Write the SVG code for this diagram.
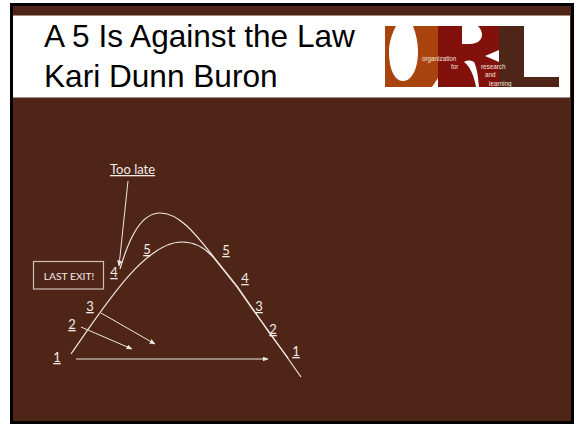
<svg xmlns="http://www.w3.org/2000/svg" width="578" height="424" viewBox="0 0 578 424">
<style>
.t{font-family:"Liberation Sans",Arial,sans-serif;font-size:31.6px;fill:#000}
.l{font-family:"Lato","Open Sans",sans-serif;font-size:13px;fill:#f2ece8;text-decoration:underline}
.n{font-family:"Lato","Open Sans",sans-serif;font-size:13px;fill:#f2ece8;text-decoration:underline;text-anchor:middle}
.c{fill:none;stroke:#f0e8e2;stroke-width:1.2}
.a{fill:none;stroke:#f0e8e2;stroke-width:1;marker-end:url(#h)}
.o{font-family:"Liberation Sans",Arial,sans-serif;font-size:6.3px;fill:#f3e6dc}
</style>
<defs><marker id="h" markerWidth="6" markerHeight="5" refX="5.500" refY="2.500" orient="auto" markerUnits="userSpaceOnUse"><path d="M0 0L6 2.500L0 5Z" fill="#f0e8e2"/></marker></defs>
<rect width="578" height="424" fill="#fff"/>
<rect x="11.500" y="4.500" width="561" height="418" fill="#4f2518" stroke="#000" stroke-width="3"/>
<rect id="band" x="13" y="15" width="557" height="82" fill="#fff"/>
<path d="M13 15.500H570M13 97.500H570" stroke="#a58d84" stroke-width="1" fill="none"/>
<g id="title"><text class="t" x="44" y="47">A 5 Is Against the Law</text><text class="t" x="44" y="87">Kari Dunn Buron</text></g>
<g id="logo">
<path d="M385 26H438V87H385Z" fill="#a9440f"/>
<path d="M396 26H413C416 34 418 42 418 52C418 68 412 81 403 81C394 81 389 68 389 52C389 42 392 34 396 26Z" fill="#fff"/>
<path d="M438 26H499V87H438Z" fill="#82110c"/>
<path d="M438 78V87H432Z" fill="#fff"/>
<path d="M462 26V44H470C477 44 482 40 482 35C482 31 480 28 478 26Z" fill="#fff"/>
<path d="M485 56L499 50V62Z" fill="#fff"/>
<path d="M464 62C470 66 474 76 476 87H479C478 76 477 68 474 62C471 60 467 60 464 62Z" fill="#fff"/>
<path d="M499 26H524V77H559V87H499Z" fill="#4f2518"/>
<text class="o" x="422" y="61">organization</text><text class="o" x="451" y="69">for</text><text class="o" x="481" y="69">research</text><text class="o" x="485" y="77">and</text><text class="o" x="489" y="85.500">learning</text>
</g>
<g id="connectors">
<path class="c" d="M71 354C105 305 145 242 182 242C195 242 205 248 213 257L237 287L253 310L270 333L301 377"/>
<path class="c" d="M120 269C130 235 142 213 160 213C180 213 197 236 213 256L237 286L253 309L270 334L288 358"/>
<path class="a" d="M128 181L119 266"/>
<path class="a" d="M81 327L132 349"/>
<path class="a" d="M101 313L155 344"/>
<path class="a" d="M76 359L268 359"/>
</g>
<g id="n-toolate"><text class="l" x="110" y="174">Too late</text></g>
<g id="n-lastexit"><rect x="33.500" y="261.500" width="70" height="27.500" fill="none" stroke="#cfc0b8" stroke-width="1.200"/><text x="69" y="280" text-anchor="middle" font-family="Lato,'Open Sans',sans-serif" font-size="10.300" fill="#f2ece8">LAST EXIT!</text></g>
<g id="labels-left"><text class="n" x="114" y="277">4</text><text class="n" x="147" y="254">5</text><text class="n" x="90" y="311">3</text><text class="n" x="72" y="329">2</text><text class="n" x="57" y="362">1</text></g>
<g id="labels-right"><text class="n" x="226" y="255">5</text><text class="n" x="245" y="283">4</text><text class="n" x="259" y="311">3</text><text class="n" x="273" y="334">2</text><text class="n" x="296" y="356">1</text></g>
</svg>
